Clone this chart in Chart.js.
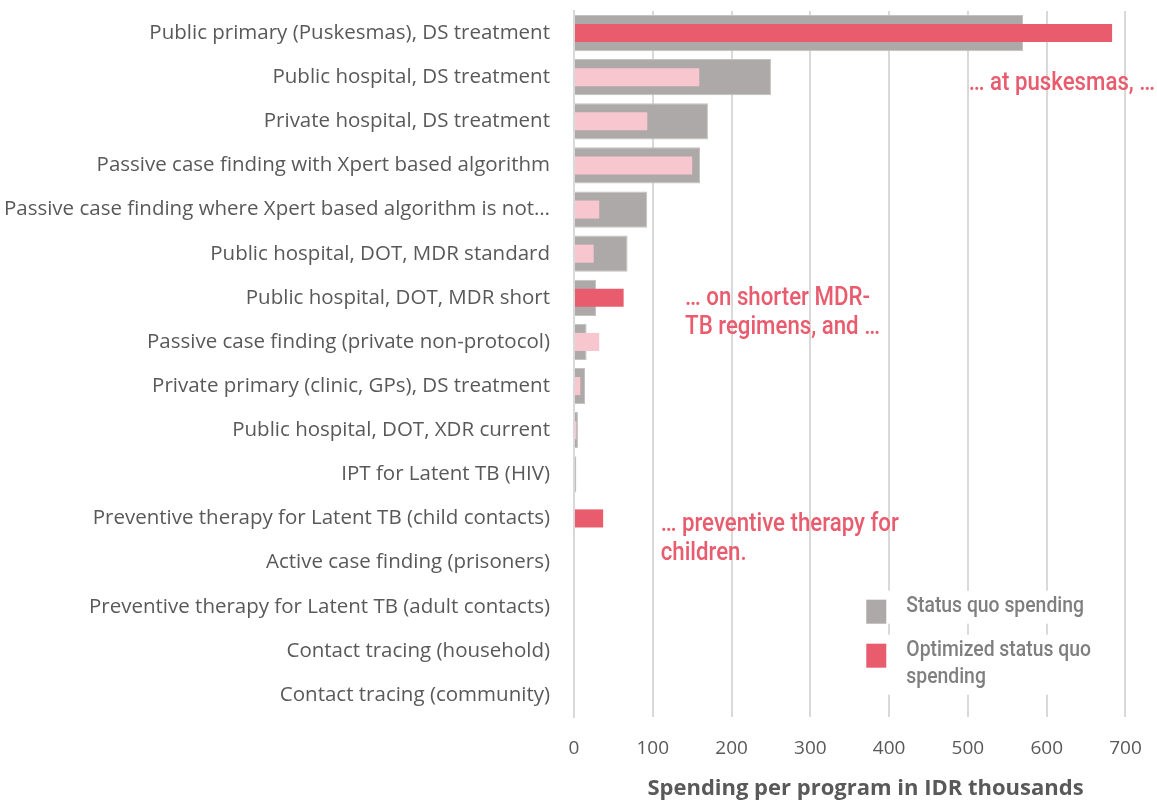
<!DOCTYPE html>
<html>
<head>
<meta charset="utf-8">
<script src="https://cdn.jsdelivr.net/npm/chart.js@4.4.0/dist/chart.umd.min.js"></script>
<style>
  html, body { margin: 0; padding: 0; background: #fff; }
  #wrap { width: 1157px; height: 802px; position: relative; }
</style>
</head>
<body>
<div id="wrap"><canvas id="chart"></canvas></div>
<script>
const programs = [
  'Public primary (Puskesmas), DS treatment',
  'Public hospital, DS treatment',
  'Private hospital, DS treatment',
  'Passive case finding with Xpert based algorithm',
  'Passive case finding where Xpert based algorithm is not\u2026',
  'Public hospital, DOT, MDR standard',
  'Public hospital, DOT, MDR short',
  'Passive case finding (private non-protocol)',
  'Private primary (clinic, GPs), DS treatment',
  'Public hospital, DOT, XDR current',
  'IPT for Latent TB (HIV)',
  'Preventive therapy for Latent TB (child contacts)',
  'Active case finding (prisoners)',
  'Preventive therapy for Latent TB (adult contacts)',
  'Contact tracing (household)',
  'Contact tracing (community)'
];
const statusQuo = [570, 250, 170, 160, 93, 68, 28, 16, 14, 5, 3, 1, 0, 0, 0, 0];
const optimized = [683, 159, 93, 150, 32, 25, 63, 32, 8, 3, 0, 37, 0, 0, 0, 0];
// programs where the optimized allocation grows (drawn in strong red)
const highlighted = [0, 6, 11];
const xTicks = [0, 100, 200, 300, 400, 500, 600, 700];

const GREY = '#ADA9A8';
const RED = '#E85C6E';
const PINK = '#F7C6CE';
const TEXT = '#595959';

// annotation texts placed by data value / category position
const notes = [
  { x: 501, row: 1.15, lines: ['\u2026 at puskesmas, \u2026'] },
  { x: 141, row: 6.02, lines: ['\u2026 on shorter MDR-', 'TB regimens, and \u2026'] },
  { x: 110, row: 11.15, lines: ['\u2026 preventive therapy for', 'children.'] }
];

const legendItems = [
  { color: GREY, lines: ['Status quo spending'] },
  { color: RED, lines: ['Optimized status quo', 'spending'] }
];

// draw condensed text by squeezing horizontally
function narrowText(ctx, text, x, y, squeeze) {
  ctx.save();
  ctx.translate(x, y);
  ctx.scale(squeeze, 1);
  ctx.fillText(text, 0, 0);
  ctx.restore();
}

const overlay = {
  id: 'overlay',
  afterDatasetsDraw(chart) {
    const { ctx } = chart;
    const xs = chart.scales.x, ys = chart.scales.y;
    ctx.save();
    ctx.font = '500 25px Roboto, sans-serif';
    ctx.fillStyle = RED;
    ctx.textAlign = 'left';
    ctx.textBaseline = 'middle';
    notes.forEach(n => {
      const x = xs.getPixelForValue(n.x);
      const y = ys.getPixelForValue(n.row);
      n.lines.forEach((l, i) => narrowText(ctx, l, x, y + i * 29, 0.89));
    });
    // legend
    const lx = xs.getPixelForValue(371);
    let ly = ys.getPixelForValue(13);
    ctx.font = '500 22px Roboto, sans-serif';
    legendItems.forEach(item => {
      ctx.fillStyle = '#fff';
      ctx.fillRect(lx - 6, ly - 16, 260, item.lines.length * 27 + 6);
      ctx.fillStyle = item.color;
      ctx.fillRect(lx, ly - 7, 20, 24);
      ctx.fillStyle = '#7F7F7F';
      item.lines.forEach((l, i) => narrowText(ctx, l, lx + 40, ly + i * 27, 0.88));
      ly += 44;
    });
    ctx.restore();
  }
};

new Chart(document.getElementById('chart'), {
  type: 'bar',
  data: {
    labels: programs,
    datasets: [
      {
        label: 'Status quo spending',
        data: statusQuo,
        backgroundColor: GREY,
        borderColor: '#C4C1C0',
        borderWidth: 1,
        barPercentage: 0.82,
        categoryPercentage: 1,
        grouped: false,
        order: 2
      },
      {
        label: 'Optimized status quo spending',
        data: optimized,
        backgroundColor: optimized.map((v, i) => highlighted.includes(i) ? RED : PINK),
        barPercentage: 0.41,
        categoryPercentage: 1,
        grouped: false,
        order: 1
      }
    ]
  },
  options: {
    indexAxis: 'y',
    responsive: true,
    maintainAspectRatio: false,
    animation: false,
    layout: { padding: { top: 11, right: 0, left: 0, bottom: 0 } },
    plugins: {
      legend: { display: false },
      tooltip: { enabled: false }
    },
    scales: {
      x: {
        min: 0,
        max: 740,
        afterBuildTicks: axis => { axis.ticks = xTicks.map(v => ({ value: v })); },
        grid: { color: '#D9D9D9', lineWidth: 2, drawTicks: false },
        border: { display: false },
        ticks: {
          color: TEXT,
          font: { family: '"Open Sans", sans-serif', size: 19 },
          padding: 20
        },
        title: {
          display: true,
          text: 'Spending per program in IDR thousands',
          color: TEXT,
          font: { family: '"Open Sans", sans-serif', size: 22, weight: 'bold' },
          padding: { top: 8, bottom: 0 }
        },
        afterFit: axis => {
          axis.height = 85;
          axis.paddingLeft = 0;
          axis.paddingRight = 0;
        }
      },
      y: {
        grid: { display: false },
        border: { display: true, color: '#D9D9D9', width: 2 },
        ticks: {
          color: TEXT,
          font: { family: '"Open Sans", sans-serif', size: 20.5 },
          padding: 16,
          autoSkip: false
        },
        afterFit: axis => {
          axis.width = 574;
          axis.paddingTop = 0;
          axis.paddingBottom = 0;
        }
      }
    }
  },
  plugins: [overlay]
});
</script>
</body>
</html>
